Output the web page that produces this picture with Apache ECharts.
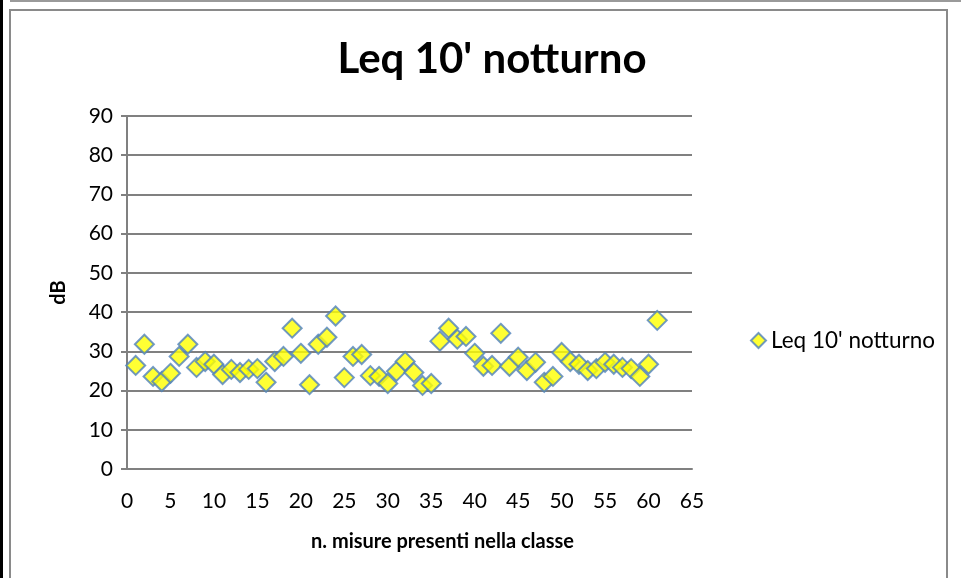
<!DOCTYPE html>
<html>
<head>
<meta charset="utf-8">
<script src="https://cdn.jsdelivr.net/npm/echarts@6/dist/echarts.min.js"></script>
<style>
  html, body { margin: 0; padding: 0; background: #fff; }
  #chart { width: 961px; height: 578px; }
</style>
</head>
<body>
<div id="chart"></div>
<script>
// dati
var misure = [];
for (var i = 1; i <= 61; i++) misure.push(i);
var leqNotturno = [
  26.4, 31.8, 23.6, 22.3, 24.4, 28.7, 31.8, 25.9, 27.4, 26.7,
  24.1, 25.4, 24.6, 25.4, 25.6, 22.1, 27.4, 28.7, 35.9, 29.5,
  21.5, 31.8, 33.6, 39.0, 23.3, 28.7, 29.2, 23.8, 23.6, 21.8,
  24.9, 27.4, 24.6, 21.3, 21.8, 32.6, 35.9, 33.1, 33.8, 29.5,
  26.2, 26.4, 34.6, 26.2, 28.5, 25.1, 27.2, 22.1, 23.6, 29.7,
  27.4, 26.7, 25.1, 25.6, 27.2, 26.7, 25.9, 25.6, 23.6, 26.7,
  37.9
];
var titolo = "Leq 10' notturno";

var punti = misure.map(function (x, k) { return [x, leqNotturno[k]]; });

var myChart = echarts.init(document.getElementById('chart'));

var font = 'Lato, "Open Sans", sans-serif';

var option = {
  backgroundColor: '#fff',
  animation: false,
  title: {
    text: titolo,
    left: 487,
    top: 33,
    textAlign: 'center',
    textStyle: { fontFamily: font, fontSize: 42, fontWeight: 'bold', color: '#000' }
  },
  legend: {
    data: [titolo],
    left: 745,
    top: 324,
    icon: 'diamond',
    itemWidth: 15,
    itemHeight: 15,
    itemGap: 7,
    textStyle: { fontFamily: font, fontSize: 22.5, color: '#000' }
  },
  grid: { left: 127, right: 269, top: 116, bottom: 109, containLabel: false },
  xAxis: {
    type: 'value',
    min: 0, max: 65, interval: 5,
    name: 'n. misure presenti nella classe',
    nameLocation: 'middle',
    nameGap: 63,
    nameTextStyle: { fontFamily: font, fontSize: 20, fontWeight: 'bold', color: '#000', padding: [0, 0, 0, 66] },
    axisLine: { show: true, lineStyle: { color: '#808080', width: 2 } },
    axisTick: { show: false },
    axisLabel: { fontFamily: font, fontSize: 21, color: '#000', margin: 22 },
    splitLine: { show: false }
  },
  yAxis: {
    type: 'value',
    min: 0, max: 90, interval: 10,
    name: 'dB',
    nameLocation: 'middle',
    nameGap: 58,
    nameRotate: 90,
    nameTextStyle: { fontFamily: font, fontSize: 20, fontWeight: 'bold', color: '#000' },
    axisLine: { show: true, lineStyle: { color: '#808080', width: 2 } },
    axisTick: { show: true, inside: false, length: 6, lineStyle: { color: '#808080', width: 2 } },
    axisLabel: { fontFamily: font, fontSize: 21, color: '#000', margin: 14 },
    splitLine: { show: true, lineStyle: { color: '#808080', width: 2 } }
  },
  series: [{
    name: titolo,
    type: 'scatter',
    symbol: 'diamond',
    symbolSize: 19,
    itemStyle: { color: '#ffff00', borderColor: '#4f81bd', borderWidth: 2 },
    data: punti
  }],
  graphic: [
    { type: 'rect', shape: { x: 0, y: 0, width: 3, height: 578 }, style: { fill: '#000' } },
    { type: 'rect', shape: { x: 10, y: 1, width: 990, height: 0 }, style: { fill: 'none', stroke: '#9a9a9a', lineWidth: 2 } },
    { type: 'rect', shape: { x: 10, y: 10, width: 937, height: 600 }, style: { fill: 'none', stroke: '#8a8a8a', lineWidth: 2 } }
  ]
};

myChart.setOption(option);
</script>
</body>
</html>
